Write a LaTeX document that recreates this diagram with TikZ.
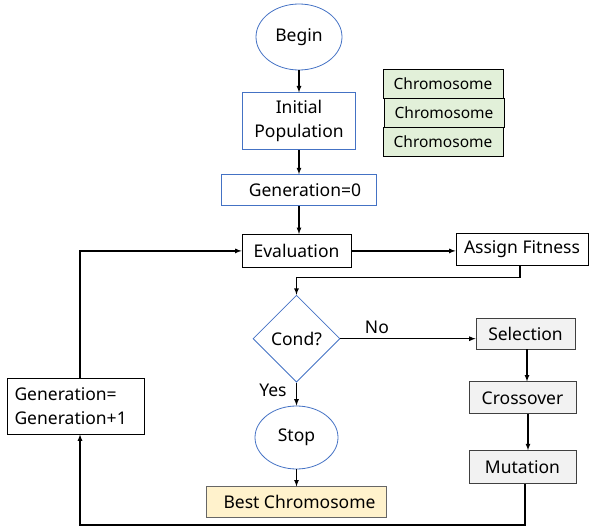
\documentclass[tikz,border=0pt]{standalone}
\usepackage{fontspec}
\setmainfont{Noto Sans}
\usepackage{tikz}
\usetikzlibrary{shapes,arrows,positioning}

\definecolor{lineblue}{HTML}{4472C4}
\definecolor{chromgreen}{HTML}{E2F0D9}
\definecolor{bestyellow}{HTML}{FFF2CC}
\definecolor{opgray}{HTML}{F2F2F2}

\begin{document}
\begin{tikzpicture}[
    x=1pt, y=-1pt,
    font=\fontsize{17.5}{24}\selectfont,
    term/.style={ellipse, draw=lineblue, line width=0.8pt, inner sep=0pt},
    startbox/.style={rectangle, draw=lineblue, line width=0.8pt, inner sep=0pt, align=center},
    plain/.style={rectangle, draw=black, line width=0.8pt, inner sep=0pt, text centered},
    chrom/.style={rectangle, draw=black, line width=0.8pt, fill=chromgreen, minimum width=120pt, minimum height=29pt, inner sep=0pt, outer sep=0pt, font=\fontsize{15.5}{18}\selectfont},
    oper/.style={rectangle, draw=black!75, line width=0.8pt, fill=opgray, minimum height=32pt, inner sep=0pt, text centered},
    check/.style={diamond, draw=lineblue, line width=0.8pt, minimum size=87pt, inner sep=0pt},
    arrow/.style={->, >=latex, line width=1.2pt}
]
\useasboundingbox (0,0) rectangle (590,527);

% Main column
\node (begin) [term, minimum width=86pt, minimum height=66pt] at (299,37) {Begin};
\node (init) [startbox, below=22pt of begin, minimum width=113pt, minimum height=57pt] {Initial\\Population};
\node (gen0) [startbox, below=24pt of init, minimum width=155pt, minimum height=31pt] {\hspace*{12pt}Generation=0};
\node (eval) [plain, below=28pt of gen0, xshift=-2.5pt, minimum width=109pt, minimum height=33pt] {Evaluation};
\node (cond) [check, below=27pt of eval] {Cond?};
\node (stop) [term, below=23pt of cond, minimum width=83pt, minimum height=63pt] {Stop};
\node (best) [rectangle, draw=black!60, line width=0.8pt, fill=bestyellow, below=17pt of stop, minimum width=180pt, minimum height=31pt, inner sep=0pt] {\hspace*{6pt}Best Chromosome};

% Chromosome stack
\node (chrom1) [chrom] at (443,83.5) {Chromosome};
\node (chrom2) [chrom, below=0pt of chrom1, xshift=1pt] {Chromosome};
\node (chrom3) [chrom, below=0pt of chrom2, xshift=-1pt] {Chromosome};

% Right column
\node (fit) [plain, minimum width=132pt, minimum height=32pt] at (522,249) {Assign Fitness};
\node (sel) [oper, minimum width=99pt, minimum height=31pt] at (525.5,333.5) {Selection};
\node (cross) [oper, below=32pt of sel, xshift=-3pt, minimum width=107pt] {Crossover};
\node (mut) [oper, below=36pt of cross, minimum width=107pt, minimum height=33pt] {Mutation};

% Loop counter
\node (geninc) [plain, align=left, minimum width=137pt, minimum height=56pt, text width=122pt] at (75.5,406) {Generation=\\Generation+1};

% Arrows
\draw [arrow] (begin) -- (init);
\draw [arrow] (init) -- (gen0);
\draw [arrow] (gen0.south) -- (gen0.south |- eval.north);
\draw [arrow] (eval.east) -- (eval.east -| fit.west);
\draw [arrow] ([xshift=-2pt]fit.south) -- ++(0,12) -| (cond.north);
\draw [arrow] (cond.east) -- node[pos=0.27, above, yshift=1pt] {No} (cond.east -| sel.west);
\draw [arrow] (cond.south) -- node[pos=0.35, left, xshift=-6pt] {Yes} (stop.north);
\draw [arrow] (stop) -- (best);
\draw [arrow] ([xshift=1.5pt]sel.south) -- ([xshift=1.5pt]sel.south |- cross.north);
\draw [arrow] ([xshift=5.5pt]cross.south) -- ([xshift=5.5pt]cross.south |- mut.north);
\draw [arrow] ([xshift=2.5pt]mut.south) -- ++(0,41) -| ([xshift=4.5pt]geninc.south);
\draw [arrow] ([xshift=4.5pt]geninc.north) |- (eval.west);

\end{tikzpicture}
\end{document}
